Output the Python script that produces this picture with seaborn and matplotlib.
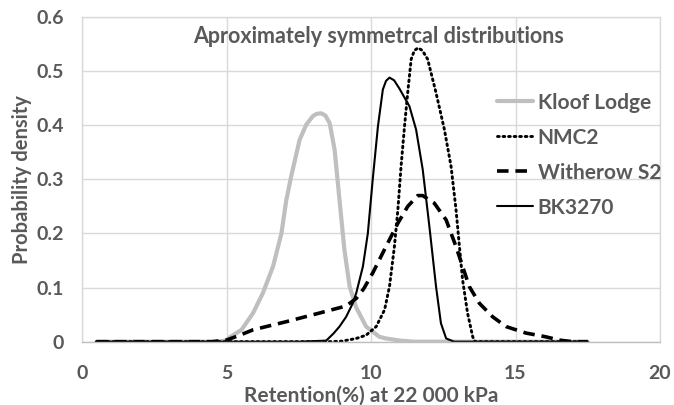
import matplotlib
matplotlib.use("Agg")
import matplotlib.pyplot as plt
import seaborn as sns
import pandas as pd

# ---- data ----
kloof_x = [0.5, 1.5, 2.5, 3.5, 4.5, 5.0, 5.11, 5.52, 5.92, 6.26, 6.61, 6.90, 7.07, 7.24, 7.53, 7.76,
           7.99, 8.12, 8.28, 8.42, 8.57, 8.74, 8.91, 9.08, 9.26, 9.49, 9.83, 10.29, 10.52, 11.0, 11.5,
           12.5, 13.5, 14.5, 15.5, 16.5, 17.5]
kloof_y = [0, 0, 0, 0, 0, 0.002, 0.008, 0.022, 0.053, 0.09, 0.139, 0.2, 0.262, 0.306, 0.373, 0.401,
           0.417, 0.421, 0.422, 0.418, 0.404, 0.355, 0.262, 0.17, 0.102, 0.063, 0.028, 0.009, 0.006, 0.002, 0,
           0, 0, 0, 0, 0, 0]

nmc_x = [0.5, 1.5, 2.5, 3.5, 4.5, 5.5, 6.5, 7.5, 8.5, 9.0, 9.49, 9.83, 10.18, 10.47, 10.64, 10.81,
         10.93, 11.04, 11.16, 11.27, 11.39, 11.5, 11.63, 11.78, 11.96, 12.25, 12.54, 12.77, 12.94,
         13.06, 13.17, 13.34, 13.52, 13.6, 14.5, 15.5, 16.5, 17.5]
nmc_y = [0, 0, 0, 0, 0, 0, 0, 0, 0, 0.001, 0.006, 0.012, 0.028, 0.059, 0.102, 0.176,
         0.244, 0.324, 0.398, 0.46, 0.522, 0.538, 0.543, 0.538, 0.522, 0.46, 0.392, 0.324, 0.245,
         0.176, 0.114, 0.053, 0.009, 0, 0, 0, 0, 0]

wit_x = [0.5, 1.5, 2.5, 3.5, 4.5, 5.0, 5.46, 5.92, 7.07, 8.22, 9.14, 9.49, 9.75, 10.06, 10.52, 10.93,
         11.27, 11.62, 11.79, 12.19, 12.6, 12.94, 13.17, 13.4, 13.75, 14.21, 14.67, 15.36, 16.05,
         16.51, 16.97, 17.5]
wit_y = [0, 0, 0, 0, 0, 0.003, 0.012, 0.022, 0.037, 0.053, 0.066, 0.08, 0.098, 0.127, 0.176, 0.219,
         0.25, 0.27, 0.27, 0.256, 0.225, 0.176, 0.139, 0.102, 0.071, 0.046, 0.028, 0.016, 0.009,
         0.003, 0, 0]

bk_x = [0.5, 1.5, 2.5, 3.5, 4.5, 5.5, 6.5, 7.5, 8.45, 8.7, 8.91, 9.14, 9.37, 9.49, 9.72, 9.89,
        10.06, 10.24, 10.41, 10.52, 10.64, 10.8, 10.98, 11.33, 11.56, 11.79, 12.02, 12.25, 12.42,
        12.6, 12.88, 13.5, 14.5, 15.5, 16.5, 17.5]
bk_y = [0, 0, 0, 0, 0, 0, 0, 0, 0.002, 0.015, 0.028, 0.046, 0.071, 0.09, 0.139, 0.2,
        0.30, 0.398, 0.466, 0.482, 0.488, 0.483, 0.468, 0.435, 0.392, 0.318, 0.213, 0.102, 0.034,
        0.006, 0, 0, 0, 0, 0, 0]

series_names = ["Kloof Lodge", "NMC2", "Witherow S2", "BK3270"]
x_ticks = [0, 5, 10, 15, 20]
y_ticks = [0, 0.1, 0.2, 0.3, 0.4, 0.5, 0.6]
y_tick_labels = ["0", "0.1", "0.2", "0.3", "0.4", "0.5", "0.6"]

title = "Aproximately symmetrcal distributions"
x_label = "Retention(%) at 22 000 kPa"
y_label = "Probability density"

# ---- plot ----
sns.set_theme(style="whitegrid")
plt.rcParams["font.family"] = ["Lato", "DejaVu Sans"]
TXT = "#595959"

W, H = 674, 405
fig = plt.figure(figsize=(W / 100, H / 100), dpi=100)
ax_l, ax_r, ax_t, ax_b = 82, 660, 17, 341.7
ax = fig.add_axes([ax_l / W, 1 - ax_b / H, (ax_r - ax_l) / W, (ax_b - ax_t) / H])

styles = {
    "Kloof Lodge": dict(color="#bfbfbf", linewidth=3.0, linestyle="-"),
    "NMC2": dict(color="black", linewidth=2.1, linestyle=(0, (0.6, 1.3))),
    "Witherow S2": dict(color="black", linewidth=2.6, linestyle=(0, (3.2, 1.9))),
    "BK3270": dict(color="black", linewidth=1.5, linestyle="-"),
}
data = {
    "Kloof Lodge": (kloof_x, kloof_y),
    "NMC2": (nmc_x, nmc_y),
    "Witherow S2": (wit_x, wit_y),
    "BK3270": (bk_x, bk_y),
}
for name in series_names:
    xs, ys = data[name]
    df = pd.DataFrame({"x": xs, "y": ys})
    st = styles[name]
    sns.lineplot(data=df, x="x", y="y", ax=ax, label=name, color=st["color"],
                 linewidth=st["linewidth"], estimator=None, sort=False)
    ln = ax.lines[-1]
    ln.set_linestyle(st["linestyle"])
    ln.set_solid_joinstyle("round")
    ln.set_dash_joinstyle("round")
    if name == "NMC2":
        ln.set_dash_capstyle("round")

ax.set_xlim(0, 20)
ax.set_ylim(0, 0.6)
ax.set_xticks(x_ticks)
ax.set_yticks(y_ticks)
ax.set_yticklabels(y_tick_labels)
ax.grid(True, color="#d9d9d9", linewidth=1.0)
for k, s in ax.spines.items():
    s.set_color("#d9d9d9")
    s.set_linewidth(1.0)
ax.spines["top"].set_linestyle((0, (1, 1)))
ax.spines["right"].set_linestyle((0, (1, 1)))
ax.spines["bottom"].set_color("#bfbfbf")
ax.tick_params(axis="both", labelsize=14, colors=TXT, length=0)
ax.tick_params(axis="y", pad=13)
ax.tick_params(axis="x", pad=17)
for lab in ax.get_xticklabels() + ax.get_yticklabels():
    lab.set_fontweight("bold")

ax.set_xlabel(x_label, fontsize=15, fontweight="bold", color=TXT)
ax.xaxis.label.set_va("baseline")
ax.xaxis.set_label_coords(0.5, (ax_b - 402) / (ax_b - ax_t))
ax.set_ylabel(y_label, fontsize=14.5, fontweight="bold", color=TXT, labelpad=3)

fig.text(378.5 / W, 1 - 43.3 / H, title, ha="center", va="baseline",
         fontsize=15.5, fontweight="bold", color=TXT)

leg = ax.legend(loc="upper left", bbox_to_anchor=((497 - ax_l) / (ax_r - ax_l), 0.767),
                frameon=False, fontsize=15, handlelength=1.75, handletextpad=0.2,
                labelspacing=0.72, borderaxespad=0, borderpad=0)
for t in leg.get_texts():
    t.set_color(TXT)
    t.set_fontweight("bold")

fig.savefig("out.png", dpi=100)
